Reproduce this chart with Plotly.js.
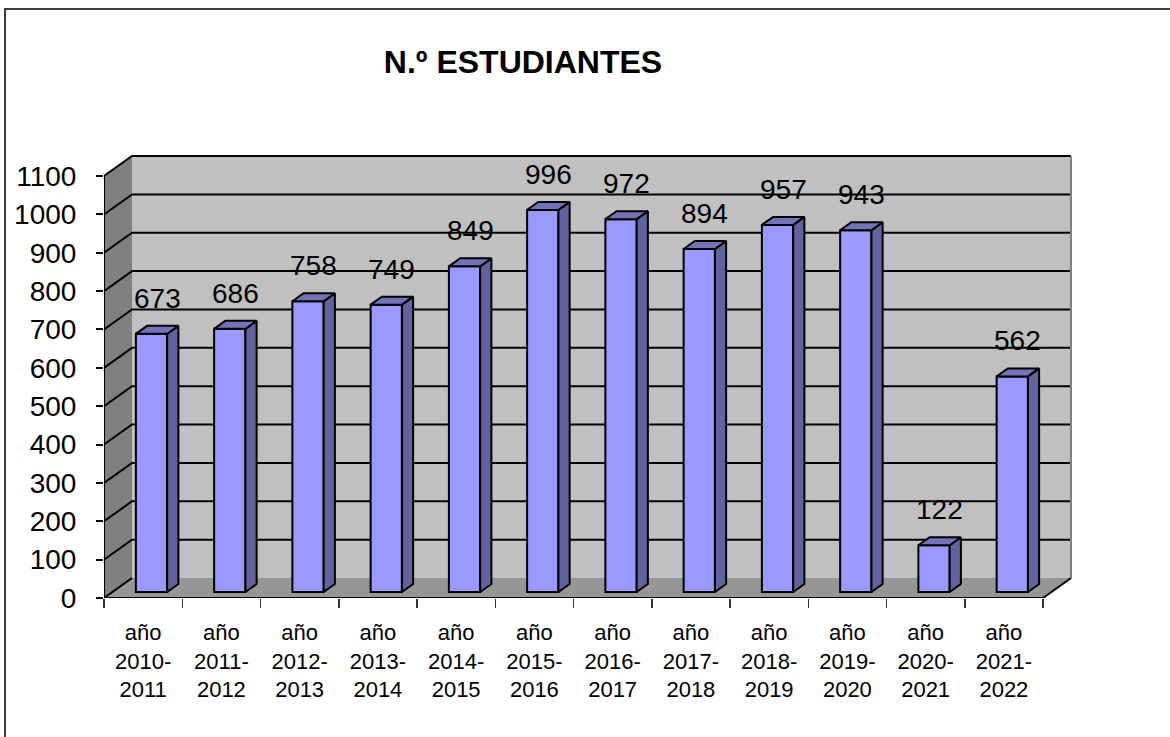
<!DOCTYPE html>
<html>
<head>
<meta charset="utf-8">
<script src="https://cdn.plot.ly/plotly-3.0.1.min.js"></script>
<style>html,body{margin:0;padding:0;background:#fff;}#chart{width:1170px;height:737px;}</style>
</head>
<body>
<div id="chart"></div>
<script>
// ---- data ----
const categories = ['año<br>2010-<br>2011','año<br>2011-<br>2012','año<br>2012-<br>2013','año<br>2013-<br>2014',
  'año<br>2014-<br>2015','año<br>2015-<br>2016','año<br>2016-<br>2017','año<br>2017-<br>2018',
  'año<br>2018-<br>2019','año<br>2019-<br>2020','año<br>2020-<br>2021','año<br>2021-<br>2022'];
const values = [673, 686, 758, 749, 849, 996, 972, 894, 957, 943, 122, 562];
const yTicks = [0,100,200,300,400,500,600,700,800,900,1000,1100];
const titleText = 'N.º ESTUDIANTES';

// ---- 3D geometry (style) ----
const PXX = 78.25, PXY = 0.3836;       // px per category / per unit
const DX = 28 / PXX, DY = 20 / PXY;      // depth offset in data units
const D0 = 0.3, BW = 0.4, BD = 0.4;      // bar depth start, bar width, bar depth
const N = categories.length;
const YMAX = yTicks[yTicks.length - 1];
const FONT = 'Liberation Sans, Arial, sans-serif';

const shapes = [];
// outer border (left/top visible)
shapes.push({type:'rect', xref:'paper', yref:'paper', x0:(5-104)/968, x1:1.3, y0:-0.6, y1:(598-9)/443,
  line:{color:'#404040', width:2}, fillcolor:'rgba(0,0,0,0)', layer:'below'});
// left wall
shapes.push({type:'path', xref:'x', yref:'y', layer:'below',
  path:`M0,0 L${DX},${DY} L${DX},${YMAX+DY} L0,${YMAX} Z`, fillcolor:'#808080', line:{width:0}});
// back wall
shapes.push({type:'rect', xref:'x', yref:'y', layer:'below', x0:DX, x1:N+DX, y0:DY, y1:YMAX+DY,
  fillcolor:'#C0C0C0', line:{width:0}});
// floor
shapes.push({type:'path', xref:'x', yref:'y', layer:'below',
  path:`M0,0 L${N},0 L${N+DX},${DY} L${DX},${DY} Z`, fillcolor:'#969696', line:{width:0}});
// gridlines
yTicks.forEach(v => {
  const p = v === 0 ? `M0,${v} L${DX},${v+DY}` : `M0,${v} L${DX},${v+DY} L${N+DX},${v+DY}`;
  shapes.push({type:'path', xref:'x', yref:'y', layer:'below', path:p, line:{color:'#000', width:2}});
});
// back wall right edge
shapes.push({type:'line', xref:'x', yref:'y', layer:'below', x0:N+DX, x1:N+DX, y0:DY, y1:YMAX+DY,
  line:{color:'#808080', width:2}});
// floor front & right edge, left wall front edge
shapes.push({type:'path', xref:'x', yref:'y', layer:'below',
  path:`M0,${YMAX} L0,0 L${N},0 L${N+DX},${DY}`, line:{color:'#000', width:2}});

// ---- bars ----
const xc = values.map((v,i) => i + 0.5 + D0*DX);
const base = D0*DY;
const barTrace = {type:'bar', x:xc, y:values, base:values.map(()=>base), width:BW,
  marker:{color:'#9999FF', line:{color:'#000', width:2}}, hoverinfo:'skip', showlegend:false};

const sx = [], sy = [], tx = [], ty = [];
values.forEach((v,i) => {
  const xl = xc[i] - BW/2, xr = xc[i] + BW/2, yt = v + base;
  const ox = BD*DX, oy = BD*DY;
  sx.push(xr, xr+ox, xr+ox, xr, xr, null);
  sy.push(base, base+oy, yt+oy, yt, base, null);
  tx.push(xl, xr, xr+ox, xl+ox, xl, null);
  ty.push(yt, yt, yt+oy, yt+oy, yt, null);
});
const sideTrace = {type:'scatter', mode:'lines', x:sx, y:sy, fill:'toself', fillcolor:'#62629E',
  line:{color:'#000', width:2}, hoverinfo:'skip', showlegend:false};
const topTrace = {type:'scatter', mode:'lines', x:tx, y:ty, fill:'toself', fillcolor:'#7373B8',
  line:{color:'#000', width:2}, hoverinfo:'skip', showlegend:false};

const annotations = values.map((v,i) => ({
  x: xc[i] + BD*DX/2, y: v + (D0+BD)*DY, xref:'x', yref:'y', text:String(v), showarrow:false,
  yanchor:'bottom', xanchor:'center', yshift:10, font:{family:FONT, size:28, color:'#000'}
}));

const layout = {
  width:1170, height:737,
  margin:{l:104, r:1170-104-968, t:155, b:737-598, pad:0},
  paper_bgcolor:'#fff', plot_bgcolor:'rgba(0,0,0,0)',
  title:{text:titleText, x:523/1170, xref:'container', xanchor:'center', y:1-62/737, yref:'container', yanchor:'middle',
    font:{family:FONT, size:32, color:'#000', weight:'bold'}},
  xaxis:{range:[0, 968/PXX], showgrid:false, zeroline:false, showline:false,
    tickmode:'array', tickvals:categories.map((c,i)=>i+0.5), ticktext:categories, ticks:'',
    ticklabelstandoff:19,
    minor:{tickmode:'array', tickvals:categories.map((c,i)=>i).concat([N]), ticks:'outside', ticklen:9,
      tickcolor:'#333', tickwidth:1.5, showgrid:false},
    tickfont:{family:FONT, size:22, color:'#000'}, fixedrange:true},
  yaxis:{range:[0, 443/PXY], showgrid:false, zeroline:false, showline:false,
    tickmode:'array', tickvals:yTicks, ticktext:yTicks.map(String), ticks:'outside', ticklen:7,
    tickcolor:'#000', tickwidth:2, ticklabelstandoff:14,
    tickfont:{family:FONT, size:28, color:'#000'}, fixedrange:true},
  shapes:shapes, annotations:annotations, showlegend:false, bargap:0
};

Plotly.newPlot('chart', [barTrace, sideTrace, topTrace], layout, {displayModeBar:false, staticPlot:true});
</script>
</body>
</html>
